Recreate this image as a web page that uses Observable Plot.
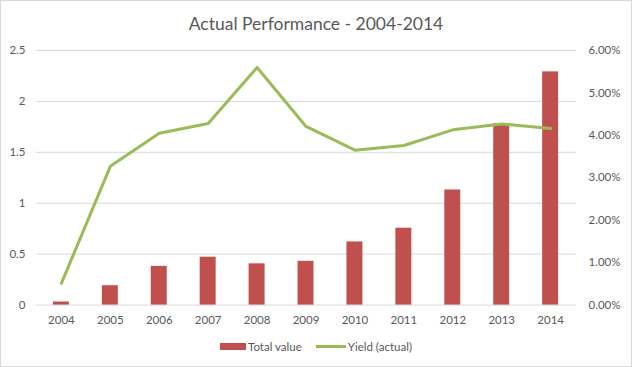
<!DOCTYPE html>
<html>
<head>
<meta charset="utf-8">
<script src="https://cdn.jsdelivr.net/npm/d3@7"></script>
<script src="https://cdn.jsdelivr.net/npm/@observablehq/plot@0.6"></script>
<style>
  html, body { margin: 0; padding: 0; background: #fff; }
  #chart { position: relative; width: 632px; height: 367px; box-sizing: border-box; border: 1px solid #d9d9d9; font-family: Lato, "Open Sans", sans-serif; color: #595959; overflow: hidden; }
  #title { position: absolute; left: 0; top: 12px; width: 100%; text-align: center; font-size: 17.5px; color: #595959; }
  #plot { position: absolute; left: -1px; top: 39px; }
  #legend { position: absolute; left: 0; top: 339px; width: 100%; display: flex; justify-content: center; align-items: center; font-size: 11.5px; color: #595959; }
  .sw { display: inline-block; margin-right: 2px; }
  .item { display: flex; align-items: center; margin: 0 7px; }
</style>
</head>
<body>
<div id="chart">
  <div id="title">Actual Performance - 2004-2014</div>
  <div id="plot"></div>
  <div id="legend">
    <div class="item"><span class="sw" style="width:26px;height:7px;background:#c0504d"></span>Total value</div>
    <div class="item"><span class="sw" style="width:30px;height:3px;background:#9bbb59"></span>Yield (actual)</div>
  </div>
</div>
<script>
const years = ["2004","2005","2006","2007","2008","2009","2010","2011","2012","2013","2014"];
const totalValue = [0.03, 0.19, 0.38, 0.47, 0.405, 0.43, 0.62, 0.755, 1.13, 1.78, 2.29];
const yieldActual = [0.0051, 0.0327, 0.0405, 0.0428, 0.056, 0.0421, 0.0365, 0.0376, 0.0413, 0.0427, 0.0416];
const leftTicks = [0, 0.5, 1, 1.5, 2, 2.5];
const rightTicks = [0, 0.01, 0.02, 0.03, 0.04, 0.05, 0.06];

const leftMax = 2.5, rightMax = 0.06;
const toLeft = v => v / rightMax * leftMax;

const data = years.map((y, i) => ({year: y, value: totalValue[i], yield: yieldActual[i]}));

const chart = Plot.plot({
  width: 632,
  height: 296,
  marginLeft: 36,
  marginRight: 55,
  marginTop: 10,
  marginBottom: 31,
  style: {fontFamily: "Lato, 'Open Sans', sans-serif", fontSize: "11.5px", color: "#595959", background: "transparent"},
  x: {domain: years, paddingInner: 0.67, paddingOuter: 0.335, label: null},
  y: {domain: [0, leftMax], label: null},
  marks: [
    Plot.gridY(leftTicks, {stroke: "#d9d9d9", strokeOpacity: 1, strokeWidth: 1}),
    Plot.axisY(leftTicks, {anchor: "left", tickSize: 0, tickPadding: 11, label: null, tickFormat: d => String(d), fill: "#595959"}),
    Plot.axisY(rightTicks.map(toLeft), {anchor: "right", tickSize: 0, tickPadding: 12, label: null, textAnchor: "start", tickFormat: (d, i) => (rightTicks[i] * 100).toFixed(2) + "%", fill: "#595959"}),
    Plot.axisX({tickSize: 0, tickPadding: 11, label: null, fill: "#595959"}),
    Plot.barY(data, {x: "year", y: "value", fill: "#c0504d"}),
    Plot.lineY(data, {x: "year", y: d => toLeft(d.yield), stroke: "#9bbb59", strokeWidth: 3, strokeLinejoin: "round"})
  ]
});
document.getElementById("plot").appendChild(chart);
</script>
</body>
</html>
